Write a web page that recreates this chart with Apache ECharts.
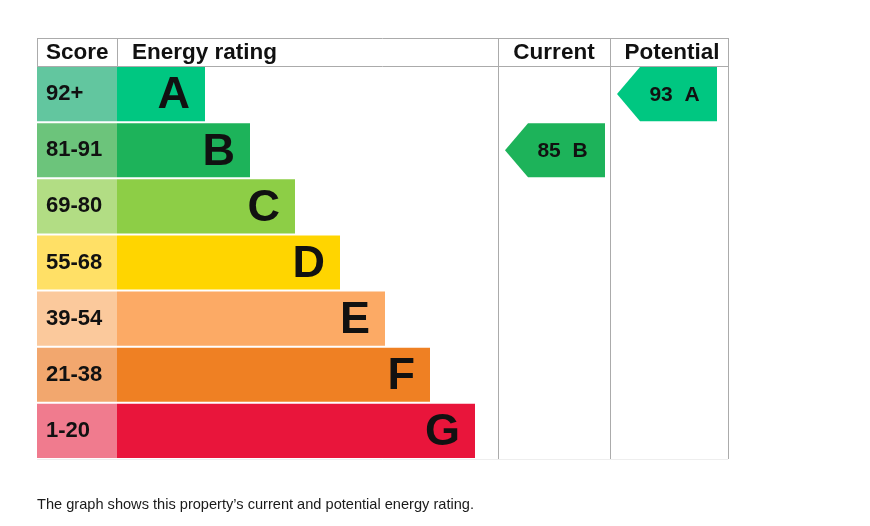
<!DOCTYPE html>
<html>
<head>
<meta charset="utf-8">
<script src="https://cdn.jsdelivr.net/npm/echarts@6/dist/echarts.min.js"></script>
<style>
html,body{margin:0;padding:0;background:#fff;}
#chart{width:870px;height:526px;}
</style>
</head>
<body>
<div id="chart"></div>
<script>
// ---- data ----
const bands = ['A', 'B', 'C', 'D', 'E', 'F', 'G'];
const scoreRanges = ['92+', '81-91', '69-80', '55-68', '39-54', '21-38', '1-20'];
const bandLengths = [88, 133, 178, 223, 268, 313, 358];
const bandColors = ['#00c781', '#1db35a', '#8dce46', '#ffd500', '#fcaa65', '#ef8023', '#e9153b'];
const scoreColors = ['#62c69f', '#6cc47b', '#b2dd84', '#ffe066', '#fbc99c', '#f2a76e', '#f07b8e'];
const headers = ['Score', 'Energy rating', 'Current', 'Potential'];
const currentRating = [85, 'B'];
const potentialRating = [93, 'A'];
const footnote = 'The graph shows this property\u2019s current and potential energy rating.';

// ---- layout (pixels) ----
const G = {left: 37, top: 66, width: 691, height: 393};
const scoreColWidth = 80;
const colEdges = [37, 117, 498, 610, 728];
const headerTop = 38;

const chart = echarts.init(document.getElementById('chart'), null, {renderer: 'canvas'});
const font = '"Liberation Sans", Arial, sans-serif';

function arrowItem(rating, colStartPx, colEndPx, padL, padR) {
  return {value: [bands.indexOf(rating[1]), rating[0], rating[1], colStartPx - G.left + padL, colEndPx - G.left - padR]};
}

function renderArrow(params, api) {
  const cat = api.value(0);
  const score = api.value(1);
  const letter = bands[cat];
  const x0 = api.value(3), x1 = api.value(4);
  const pStart = api.coord([x0, cat]);
  const pEnd = api.coord([x1, cat]);
  const h = api.size([0, 1])[1] * 0.965;
  const cy = pStart[1];
  const tip = 23;
  const color = bandColors[cat];
  return {
    type: 'group',
    children: [{
      type: 'polygon',
      shape: {points: [
        [pStart[0], cy],
        [pStart[0] + tip, cy - h / 2],
        [pEnd[0], cy - h / 2],
        [pEnd[0], cy + h / 2],
        [pStart[0] + tip, cy + h / 2]
      ]},
      style: {fill: color}
    }, {
      type: 'text',
      style: {
        text: score + '  ' + letter,
        x: (pStart[0] + tip + pEnd[0]) / 2 - 4,
        y: cy + 1,
        align: 'center', verticalAlign: 'middle',
        font: 'bold 21px ' + font,
        fill: '#111'
      }
    }]
  };
}

const lineStyle = {stroke: '#ababab', lineWidth: 1};
const graphics = [];
graphics.push({type: 'line', shape: {x1: colEdges[0], y1: headerTop + 0.5, x2: colEdges[4], y2: headerTop + 0.5}, style: lineStyle, z: 1});
graphics.push({type: 'line', shape: {x1: colEdges[0], y1: G.top + 0.5, x2: colEdges[4], y2: G.top + 0.5}, style: lineStyle, z: 1});
graphics.push({type: 'line', shape: {x1: colEdges[0], y1: G.top + G.height + 0.5, x2: colEdges[4], y2: G.top + G.height + 0.5}, style: {stroke: '#eeeeee', lineWidth: 1}, z: 1});
colEdges.forEach((x, i) => {
  const full = (i >= 2);
  graphics.push({type: 'line', shape: {x1: x + 0.5, y1: headerTop, x2: x + 0.5, y2: full ? G.top + G.height : G.top}, style: lineStyle, z: 1});
});
const hFont = 'bold 22.5px ' + font;
graphics.push({type: 'text', style: {text: headers[0], x: 46, y: 53, verticalAlign: 'middle', font: hFont, fill: '#111'}, z: 5});
graphics.push({type: 'text', style: {text: headers[1], x: 132, y: 53, verticalAlign: 'middle', font: hFont, fill: '#111'}, z: 5});
graphics.push({type: 'text', style: {text: headers[2], x: (colEdges[2] + colEdges[3]) / 2, y: 53, align: 'center', verticalAlign: 'middle', font: hFont, fill: '#111'}, z: 5});
graphics.push({type: 'text', style: {text: headers[3], x: (colEdges[3] + colEdges[4]) / 2 + 3, y: 53, align: 'center', verticalAlign: 'middle', font: hFont, fill: '#111'}, z: 5});
graphics.push({type: 'text', style: {text: footnote, x: 37, y: 505, verticalAlign: 'middle', font: '14.6px ' + font, fill: '#1a1a1a'}, z: 5});

const option = {
  animation: false,
  backgroundColor: '#ffffff',
  grid: {left: G.left, top: G.top, width: G.width, height: G.height, containLabel: false},
  xAxis: {type: 'value', min: 0, max: G.width, show: false},
  yAxis: {type: 'category', data: bands, inverse: true, show: false},
  graphic: graphics,
  series: [{
    type: 'bar',
    stack: 'r',
    barCategoryGap: '3.5%',
    data: scoreRanges.map((s, i) => ({value: scoreColWidth, itemStyle: {color: scoreColors[i]}})),
    label: {
      show: true, position: 'insideLeft', distance: 9,
      formatter: p => scoreRanges[p.dataIndex],
      fontFamily: font, fontWeight: 'bold', fontSize: 22, color: '#111'
    },
    z: 2
  }, {
    type: 'bar',
    stack: 'r',
    data: bandLengths.map((v, i) => ({value: v, itemStyle: {color: bandColors[i]}})),
    label: {
      show: true, position: 'insideRight', distance: 15, offset: [0, 2],
      formatter: p => bands[p.dataIndex],
      fontFamily: font, fontWeight: 'bold', fontSize: 45, color: '#111'
    },
    z: 2
  }, {
    type: 'custom',
    renderItem: renderArrow,
    data: [arrowItem(currentRating, colEdges[2], colEdges[3], 7, 5), arrowItem(potentialRating, colEdges[3], colEdges[4], 7, 11)],
    z: 3
  }]
};
chart.setOption(option);
</script>
</body>
</html>
